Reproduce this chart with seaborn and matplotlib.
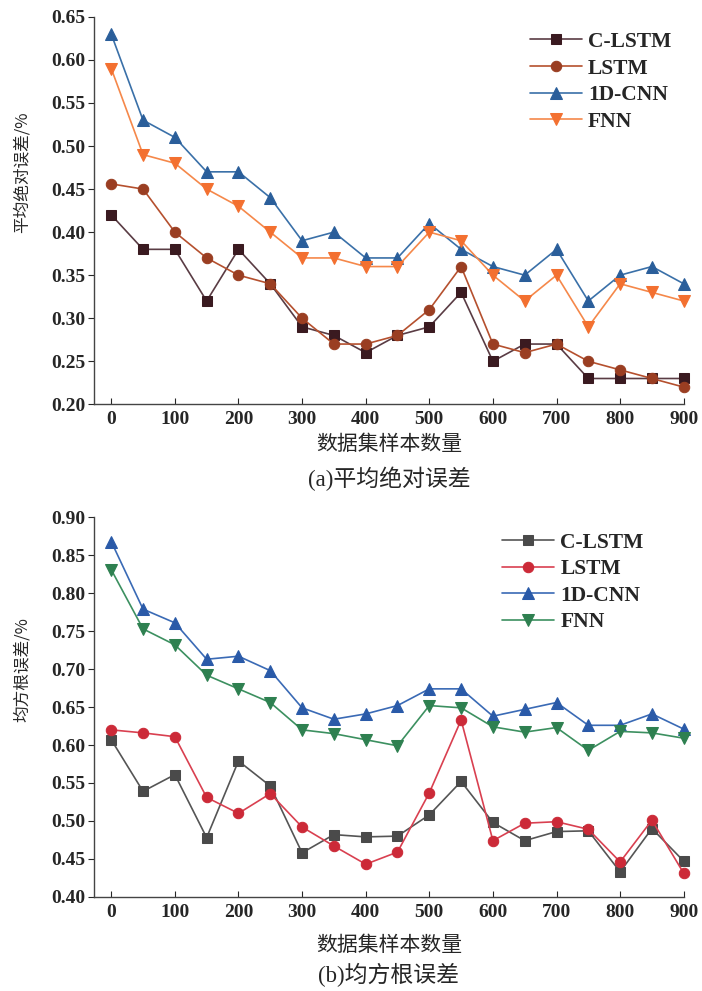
import numpy as np
import pandas as pd
import matplotlib
matplotlib.use("Agg")
import matplotlib.pyplot as plt
import seaborn as sns

# sample counts on the x axis
sizes = [0, 50, 100, 150, 200, 250, 300, 350, 400, 450,
         500, 550, 600, 650, 700, 750, 800, 850, 900]

# (a) mean absolute error
mae_clstm = [0.42, 0.38, 0.38, 0.32, 0.38, 0.34, 0.29, 0.28, 0.26, 0.28,
             0.29, 0.33, 0.25, 0.27, 0.27, 0.23, 0.23, 0.23, 0.23]
mae_lstm = [0.456, 0.45, 0.40, 0.37, 0.35, 0.34, 0.30, 0.27, 0.27, 0.28,
            0.31, 0.36, 0.27, 0.26, 0.27, 0.25, 0.24, 0.23, 0.22]
mae_cnn = [0.63, 0.53, 0.51, 0.47, 0.47, 0.44, 0.39, 0.40, 0.37, 0.37,
           0.41, 0.38, 0.36, 0.35, 0.38, 0.32, 0.35, 0.36, 0.34]
mae_fnn = [0.59, 0.49, 0.48, 0.45, 0.43, 0.40, 0.37, 0.37, 0.36, 0.36,
           0.40, 0.39, 0.35, 0.32, 0.35, 0.29, 0.34, 0.33, 0.32]

# (b) root mean square error
rmse_clstm = [0.607, 0.539, 0.561, 0.478, 0.579, 0.546, 0.458, 0.482, 0.479, 0.480,
              0.508, 0.552, 0.498, 0.474, 0.486, 0.487, 0.433, 0.490, 0.447]
rmse_lstm = [0.620, 0.616, 0.611, 0.531, 0.510, 0.536, 0.492, 0.467, 0.443, 0.459,
             0.537, 0.633, 0.474, 0.497, 0.499, 0.489, 0.446, 0.501, 0.431]
rmse_cnn = [0.868, 0.779, 0.761, 0.713, 0.717, 0.698, 0.649, 0.634, 0.641, 0.652,
            0.674, 0.674, 0.638, 0.647, 0.656, 0.626, 0.626, 0.641, 0.621]
rmse_fnn = [0.831, 0.753, 0.732, 0.692, 0.674, 0.656, 0.620, 0.615, 0.607, 0.599,
            0.652, 0.649, 0.624, 0.617, 0.623, 0.593, 0.618, 0.616, 0.609]

models = ["C-LSTM", "LSTM", "1D-CNN", "FNN"]
markers = ["s", "o", "^", "v"]
msizes = [7, 7.5, 8.5, 8.5]

sns.set_style("ticks")
plt.rcParams['font.family'] = ['Liberation Serif', 'Noto Sans CJK SC']
plt.rcParams['axes.linewidth'] = 1.0

fig = plt.figure(figsize=(7.02, 9.91), dpi=100)
ax1 = fig.add_axes([0.134, 0.592, 0.84, 0.391])
ax2 = fig.add_axes([0.134, 0.095, 0.84, 0.383])

cjk = ['Noto Sans CJK SC', 'Liberation Serif']


def draw(ax, series, lcols, mcols, ylim, yticks, ylabel, caption,
         xlab_y, cap_y, leg_anchor):
    rows = []
    for name, vals in zip(models, series):
        for s, v in zip(sizes, vals):
            rows.append({"size": s, "value": v, "model": name})
    df = pd.DataFrame(rows)
    for name, mk, ms, lc, mc in zip(models, markers, msizes, lcols, mcols):
        sub = df[df["model"] == name]
        sns.lineplot(data=sub, x="size", y="value", ax=ax, color=lc, lw=1.2,
                     marker=mk, markersize=ms, markerfacecolor=mc,
                     markeredgecolor=mc, label=name, clip_on=False)
    ax.set_xlim(-27, 900)
    ax.set_ylim(*ylim)
    ax.set_xticks(range(0, 901, 100))
    ax.set_yticks(yticks)
    ax.set_yticklabels([f"{t:.2f}" for t in yticks])
    ax.tick_params(axis="x", direction="in", length=4, labelsize=14, pad=5)
    ax.tick_params(axis="y", direction="out", length=4, labelsize=14, pad=2)
    for lab in ax.get_xticklabels() + ax.get_yticklabels():
        lab.set_fontweight("bold")
    sns.despine(ax=ax)
    ax.spines["left"].set_color("#444444")
    ax.spines["bottom"].set_color("#444444")
    ax.set_xlabel("数据集样本数量", family=cjk, fontsize=15)
    ax.xaxis.label.set_va("center")
    ax.xaxis.set_label_coords(0.5, xlab_y)
    ax.set_ylabel(ylabel, family=cjk, fontsize=12)
    ax.yaxis.label.set_va("center")
    ax.yaxis.set_label_coords(-0.122, 0.6)
    ax.text(0.5, cap_y, caption, transform=ax.transAxes, ha="center",
            va="center", fontsize=16.5)
    ax.legend(loc="upper left", bbox_to_anchor=leg_anchor, frameon=False,
              borderaxespad=0, borderpad=0,
              handlelength=2.4, labelspacing=0.3, handletextpad=0.3,
              prop={"family": "Liberation Serif", "weight": "bold", "size": 15.5})


draw(ax1, [mae_clstm, mae_lstm, mae_cnn, mae_fnn],
     ["#5a3c44", "#b5502e", "#3a70a8", "#f5884a"],
     ["#3a1a20", "#9a3e22", "#2a5e9a", "#f37030"],
     (0.2, 0.65), np.arange(0.20, 0.651, 0.05), "平均绝对误差/%",
     "(a)平均绝对误差", -0.103, -0.191, (0.739, 0.961))

draw(ax2, [rmse_clstm, rmse_lstm, rmse_cnn, rmse_fnn],
     ["#555555", "#d94050", "#3a6ab5", "#3c9060"],
     ["#4a4a4a", "#cc2a38", "#2a5aa8", "#2e8050"],
     (0.4, 0.9), np.arange(0.40, 0.901, 0.05), "均方根误差/%",
     "(b)均方根误差", -0.126, -0.205, (0.692, 0.96))

fig.savefig("out.png", dpi=100)
